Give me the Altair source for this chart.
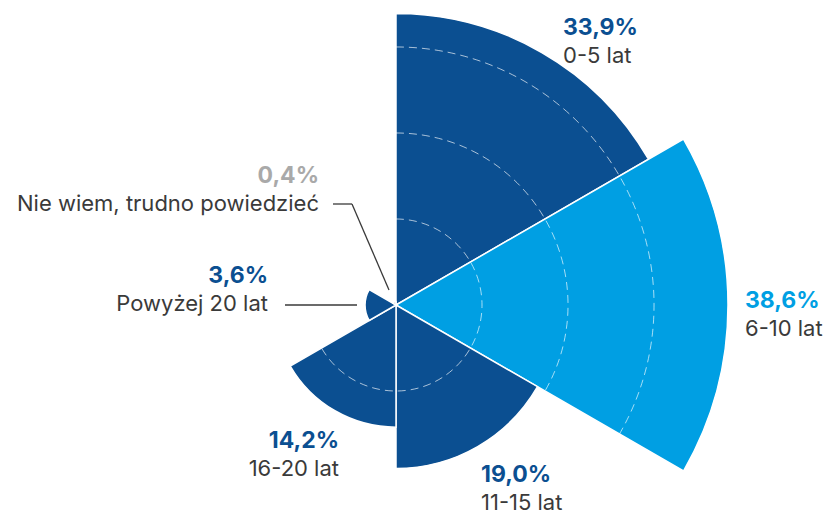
import math
import altair as alt
import pandas as pd

# ---- data ----
categories = ["0-5 lat", "6-10 lat", "11-15 lat", "16-20 lat", "Powyżej 20 lat", "Nie wiem, trudno powiedzieć"]
values = [33.9, 38.6, 19.0, 14.2, 3.6, 0.4]
value_labels = ["33,9%", "38,6%", "19,0%", "14,2%", "3,6%", "0,4%"]
grid_levels = [10, 20, 30]

# ---- styles ----
DARK = "#0B4F91"
LIGHT = "#009FE3"
GREY = "#C4C4C4"
slice_colors = [DARK, LIGHT, DARK, DARK, DARK, GREY]
pct_colors = [DARK, LIGHT, DARK, DARK, DARK, "#A9A9A9"]
TEXT = "#3A3A3A"
FONT = "Inter"
CX, CY = 396, 305

n = len(categories)
df = pd.DataFrame({
    "cat": categories,
    "value": values,
    "t0": list(range(n)),
    "t1": [i + 1 for i in range(n)],
})

radius_scale = alt.Scale(type="linear", domain=[0, 38.6], range=[0, 332], zero=True)
theta_scale = alt.Scale(domain=[0, n], range=[0, 2 * math.pi])

arcs = alt.Chart(df).mark_arc(stroke="white", strokeWidth=1.5).encode(
    theta=alt.Theta("t0:Q", scale=theta_scale),
    theta2="t1:Q",
    radius=alt.Radius("value:Q", scale=radius_scale),
    color=alt.Color("cat:N", scale=alt.Scale(domain=categories, range=slice_colors), legend=None),
    x=alt.value(CX),
    y=alt.value(CY),
)

grid = alt.Chart(pd.DataFrame({"level": grid_levels, "a0": [0] * 3, "a1": [n] * 3})).mark_arc(
    filled=False, stroke="white", strokeOpacity=0.65, strokeWidth=1, strokeDash=[8, 5],
).encode(
    theta=alt.Theta("a0:Q", scale=theta_scale),
    theta2="a1:Q",
    radius=alt.Radius("level:Q", scale=radius_scale),
    x=alt.value(CX),
    y=alt.value(CY),
)

# ---- annotations (label anchors, alignment) ----
lab = pd.DataFrame({
    "pct": value_labels,
    "name": categories,
    "col": pct_colors,
    "x": [563, 745, 481, 339, 268, 319],
    "y": [35, 308, 482, 448, 283, 183],
    "side": ["left", "left", "left", "right", "right", "right"],
})
lab["y2"] = lab["y"] + 28

def text_layers(side):
    d = lab[lab["side"] == side]
    pct = alt.Chart(d).mark_text(align=side, baseline="alphabetic", font=FONT,
                                 fontSize=23, fontWeight="bold").encode(
        x=alt.X("x:Q", scale=None), y=alt.Y("y:Q", scale=None),
        text="pct:N", color=alt.Color("col:N", scale=None),
    )
    nm = alt.Chart(d).mark_text(align=side, baseline="alphabetic", font=FONT,
                                fontSize=22, color=TEXT).encode(
        x=alt.X("x:Q", scale=None), y=alt.Y("y2:Q", scale=None),
        text="name:N",
    )
    return [pct, nm]

leaders = pd.DataFrame({
    "x": [285, 333, 352],
    "y": [305, 204, 204],
    "x2": [357, 352, 389],
    "y2": [305, 204, 290],
})
lead = alt.Chart(leaders).mark_rule(color=TEXT, strokeWidth=1.3).encode(
    x=alt.X("x:Q", scale=None), y=alt.Y("y:Q", scale=None),
    x2="x2:Q", y2="y2:Q",
)

chart = alt.layer(arcs, grid, lead, *text_layers("left"), *text_layers("right")).properties(
    width=825, height=514, padding=0, autosize=alt.AutoSizeParams(type="none"),
    background="white",
).configure_view(stroke=None)

chart.save("out.html", embed_options={"renderer": "svg", "actions": False})
